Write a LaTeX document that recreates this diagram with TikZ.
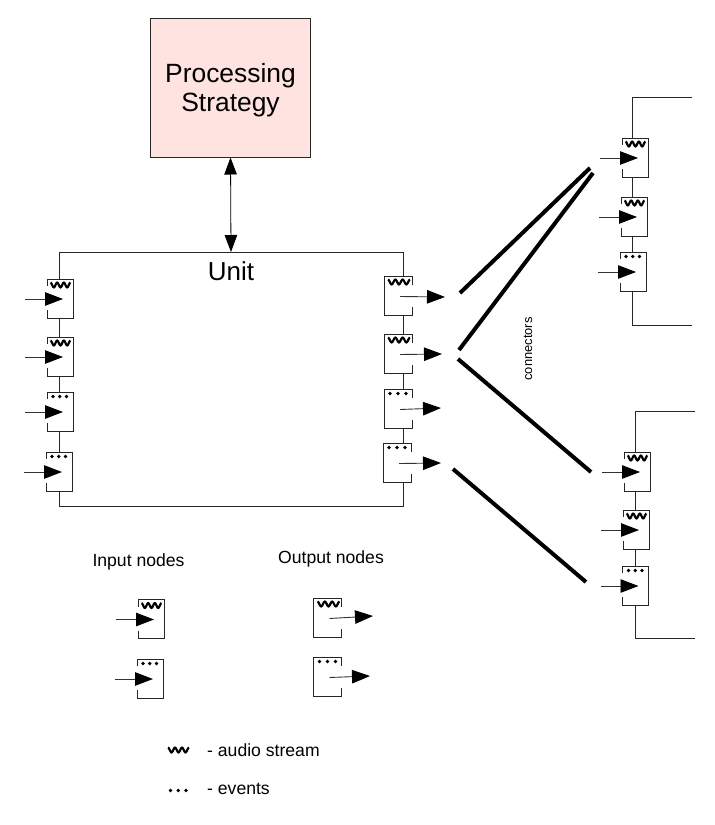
\documentclass[tikz,border=0pt]{standalone}
\usepackage{fontspec}
\setmainfont{Liberation Sans}
\usepackage{tikz}
\usetikzlibrary{arrows.meta, positioning, calc}

\definecolor{strategyfill}{HTML}{FFE3E0}

\tikzset{
    framewire/.style={line width=1pt, draw=black!85},
    portbox/.style={draw=black!85, fill=white, line width=1pt, anchor=north west, inner sep=0pt, outer sep=0pt, minimum height=39pt},
    portarrow/.style={line width=0.9pt, draw=black!80, -{Triangle[length=18pt,width=13.5pt,color=black]}},
    linkarrow/.style={line width=0.8pt, {Triangle[length=17pt,width=12.5pt]}-{Triangle[length=17pt,width=12.5pt]}},
    connectorwire/.style={line width=4pt},
    wavemark/.style={line width=2.2pt},
    labeltext/.style={font=\fontsize{17.6}{21}\selectfont, inner sep=0pt}
}

\newcommand{\wavemark}[3]{%
    \draw[wavemark] plot[domain=0:3, samples=37, variable=\t, smooth] ({#1+\t*#3/3}, {#2-2.4*cos(\t*360)});
}
\newcommand{\dotmarks}[3]{%
    \fill (#1,#2) circle (1.9pt) ({#1+#3/2},#2) circle (1.9pt) ({#1+#3},#2) circle (1.9pt);
}
% marks inside the two kinds of port
\newcommand{\inwave}[2]{\wavemark{#1+3.5}{#2+6}{20}}
\newcommand{\indots}[2]{\dotmarks{#1+6}{#2+4.5}{13.5}}
\newcommand{\outwave}[2]{\wavemark{#1+4}{#2+6}{22}}
\newcommand{\outdots}[2]{\dotmarks{#1+6}{#2+4.5}{16}}

\begin{document}
\begin{tikzpicture}[x=1pt,y=-1pt]
    \useasboundingbox (0,0) rectangle (715,825);

    % strategy block
    \node[draw=black!85, fill=strategyfill, line width=1pt, minimum width=160pt, minimum height=138.5pt] (strategy) at (230.5,87.75) {};
    \node[align=center, inner sep=0pt, font=\fontsize{26.4}{29}\selectfont] (strategylabel) at (230.5,90) {Processing\\Strategy};
    \coordinate (unittop) at (231,252);
    \draw[linkarrow] (strategy.south) -- (unittop);

    % unit frame
    \coordinate (UA) at (59.5,252);
    \coordinate (UB) at (403.5,252);
    \coordinate (UC) at (403.5,506);
    \coordinate (UD) at (59.5,506);
    \draw[framewire] (UA) -- (UB) -- (UC) -- (UD) -- cycle;
    \node[inner sep=0pt, font=\fontsize{26}{30}\selectfont] (unitlabel) at (231,271) {Unit};

    % downstream frames
    \coordinate (TA) at (692,97);
    \coordinate (TB) at (632,97);
    \coordinate (TC) at (632,325);
    \coordinate (TD) at (692,325);
    \draw[framewire] (TA) -- (TB) -- (TC) -- (TD);

    \coordinate (LA) at (695,411);
    \coordinate (LB) at (635,411);
    \coordinate (LC) at (635,638);
    \coordinate (LD) at (695,638);
    \draw[framewire] (LA) -- (LB) -- (LC) -- (LD);

    % input ports
    \foreach \name/\x/\y/\kind in {
        ua/47/279/\inwave, ub/47/337/\inwave, uc/47/392/\indots, ud/46/452/\indots,
        ta/622/138/\inwave, tb/621/197/\inwave, tc/620/252/\indots,
        la/624/452/\inwave, lb/623/510/\inwave, lc/622.5/566/\indots,
        ka/138/599.5/\inwave, kb/137/659/\indots} {
        \node[portbox, minimum width=26pt] (\name) at (\x,\y) {};
        \draw[white, line width=1.6pt] ($(\x,\y)+(0,7)$) -- ($(\x,\y)+(0,31)$);
        \coordinate (\name tail) at ($(\x,\y)+(-22,20)$);
        \coordinate (\name tip) at ($(\x,\y)+(16,20)$);
        \draw[portarrow] (\name tail) -- (\name tip);
        \kind{\x}{\y}
    }

    % output ports
    \foreach \name/\x/\y/\kind/\tipx/\tipy in {
        oa/384/276/\outwave/445/297, ob/384/334/\outwave/442/354,
        oc/384/389/\outdots/441/408, od/383/443/\outdots/441/463,
        ke/313.5/598/\outwave/373/616, kf/313.5/657/\outdots/370/676} {
        \node[portbox, minimum width=28pt] (\name) at (\x,\y) {};
        \draw[white, line width=1.6pt] ($(\x,\y)+(28,9)$) -- ($(\x,\y)+(28,31)$);
        \coordinate (\name tail) at ($(\x,\y)+(16,20.5)$);
        \coordinate (\name tip) at (\tipx,\tipy);
        \draw[portarrow] (\name tail) -- (\name tip);
        \kind{\x}{\y}
    }

    % connectors
    \coordinate (CA) at (460,293);
    \coordinate (CB) at (590,168);
    \coordinate (CC) at (459,350);
    \coordinate (CD) at (593,173);
    \coordinate (CE) at (458,359);
    \coordinate (CF) at (591,472);
    \coordinate (CG) at (453,469);
    \coordinate (CH) at (586,582);
    \draw[connectorwire] (CA) -- (CB);
    \draw[connectorwire] (CC) -- (CD);
    \draw[connectorwire] (CE) -- (CF);
    \draw[connectorwire] (CG) -- (CH);
    \node[rotate=90, inner sep=0pt, font=\fontsize{12.9}{15}\selectfont] (connectorlabel) at (528,349) {connectors};

    % Legend
    \node[labeltext] (inputlabel) at (138.5,561.5) {Input nodes};
    \node[labeltext] (outputlabel) at (331,558.5) {Output nodes};
    \wavemark{168}{750}{21}
    \dotmarks{170.5}{790.5}{15.5}
    \node[labeltext, anchor=west] (audiolabel) at (207,750) {- audio stream};
    \node[labeltext, anchor=west] (eventlabel) at (207,789) {- events};
\end{tikzpicture}
\end{document}
